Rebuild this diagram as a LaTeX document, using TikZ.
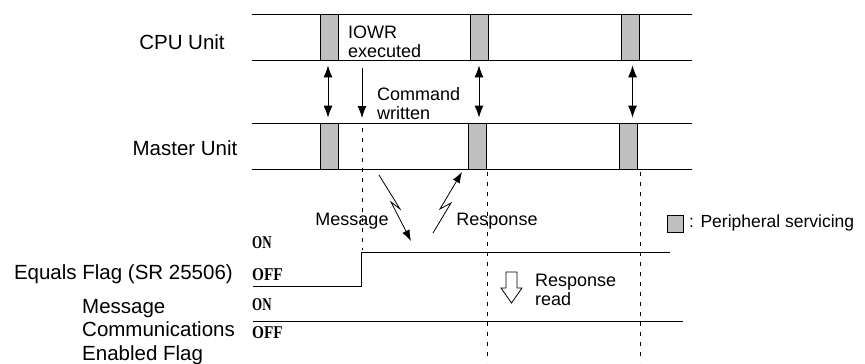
\documentclass[tikz,border=0pt]{standalone}
\usepackage{fontspec}
\usepackage{graphicx}
\setmainfont{Liberation Sans}
\newfontfamily\serifonoff{Liberation Serif}[BoldFont={Liberation Serif Bold}]
\usetikzlibrary{arrows.meta}
\definecolor{periph}{HTML}{C0C0C0}
\begin{document}
\begin{tikzpicture}[x=1pt,y=-1pt,
  lbl/.style={font=\fontsize{20.5}{23.5}\selectfont, inner sep=0pt},
  mid/.style={font=\fontsize{18}{19}\selectfont, inner sep=0pt, align=left},
  onoff/.style={font={\serifonoff\fontsize{18}{18}\selectfont\bfseries}, inner sep=0pt, anchor=west},
  busy/.style={draw, fill=periph, line width=0.8pt, minimum width=18pt, minimum height=46pt, inner sep=0pt},
  band/.style={line width=0.8pt},
  sig/.style={line width=0.8pt},
  tip/.style={-{Latex[length=12pt,width=9pt]}, line width=0.9pt},
  dbl/.style={{Latex[length=12pt,width=9pt]}-{Latex[length=12pt,width=9pt]}, line width=0.9pt},
  bolt/.style={-{Latex[length=11pt,width=8pt]}, line width=0.8pt},
  guide/.style={line width=0.7pt, dash pattern=on 4pt off 6pt}
]
\useasboundingbox (0,0) rectangle (865,364);

% bands
\draw[band] (252,14) -- (692,14);
\draw[band] (252,60) -- (692,60);
\draw[band] (252,123) -- (692,123);
\draw[band] (252,169) -- (692,169);

% peripheral servicing boxes
\node[busy] (cpu1) at (329,37) {};
\node[busy] (cpu2) at (479,37) {};
\node[busy] (cpu3) at (630.5,37) {};
\node[busy] (mas1) at (329,146) {};
\node[busy] (mas2) at (477.5,146) {};
\node[busy] (mas3) at (628.5,146) {};

% left labels
\node[lbl] (cpulbl) at (182,42) {CPU Unit};
\node[lbl] (maslbl) at (185,148) {Master Unit};
\node[lbl, anchor=east] (eqlbl) at (233,274) {Equals Flag (SR 25506)};
\node[lbl, anchor=west, align=left] (mcelbl) at (82,332) {Message\\Communications\\Enabled Flag};

% middle labels
\node[mid, anchor=west] (iowr) at (348,41.5) {IOWR\\executed};
\node[mid, anchor=west] (cmd) at (377,103.5) {Command\\written};
\node[mid] (msg) at (352,221) {Message};
\node[mid] (resp) at (497,221) {Response};
\node[mid, anchor=west] (rread) at (535,290) {Response\\read};

% ON / OFF
\node[onoff] (on1) at (252,243) {\scalebox{0.72}[1]{ON}};
\node[onoff] (off1) at (252,275) {\scalebox{0.85}[1]{OFF}};
\node[onoff] (on2) at (252,304.5) {\scalebox{0.72}[1]{ON}};
\node[onoff] (off2) at (252,333) {\scalebox{0.85}[1]{OFF}};

% dashed guide lines
\coordinate (g1a) at (362,128);
\coordinate (g1b) at (362,250);
\coordinate (g2a) at (487,172);
\coordinate (g2b) at (487,362);
\coordinate (g3a) at (640,172);
\coordinate (g3b) at (640,362);
\draw[guide] (g1a) -- (g1b);
\draw[guide] (g2a) -- (g2b);
\draw[guide] (g3a) -- (g3b);

% transfer arrows
\draw[dbl] ([xshift=-1pt,yshift=-5pt]cpu1.south) -- ([xshift=-1pt,yshift=5pt]mas1.north);
\draw[dbl] ([yshift=-5pt]cpu2.south) -- ([xshift=1.5pt,yshift=5pt]mas2.north);
\draw[dbl] ([xshift=2pt,yshift=-5pt]cpu3.south) -- ([xshift=4pt,yshift=5pt]mas3.north);
\coordinate (cmdA) at (362,68);
\coordinate (cmdB) at (362,118);
\draw[tip] (cmdA) -- (cmdB);

% lightning arrows
\coordinate (msgA) at (379,175);
\coordinate (msgB) at (411,241);
\draw[bolt] (msgA) -- (400,209) -- (391,202) -- (msgB);
\coordinate (rspA) at (433,233);
\coordinate (rspB) at (462,172);
\draw[bolt] (rspA) -- (451,203) -- (440,209) -- (rspB);

% signal lines
\coordinate (eqA) at (253,286);
\coordinate (eqB) at (670,252);
\draw[sig] (eqA) -- (361,286) -- (361,252) -- (eqB);
\coordinate (mceA) at (253,321);
\coordinate (mceB) at (683,321);
\draw[sig] (mceA) -- (mceB);

% response read arrow
\draw[line width=0.8pt, fill=white] (506,272) -- (517,272) -- (517,288) -- (522,288) -- (511.5,303) -- (501,288) -- (506,288) -- cycle;

% legend
\node[draw, fill=periph, line width=0.8pt, minimum width=16pt, minimum height=17pt, inner sep=0pt] (legbox) at (675,223.5) {};
\node[font=\fontsize{17.5}{20}\selectfont, inner sep=0pt, anchor=west] (legtxt) at (689,223) {: Peripheral servicing};
\end{tikzpicture}
\end{document}
